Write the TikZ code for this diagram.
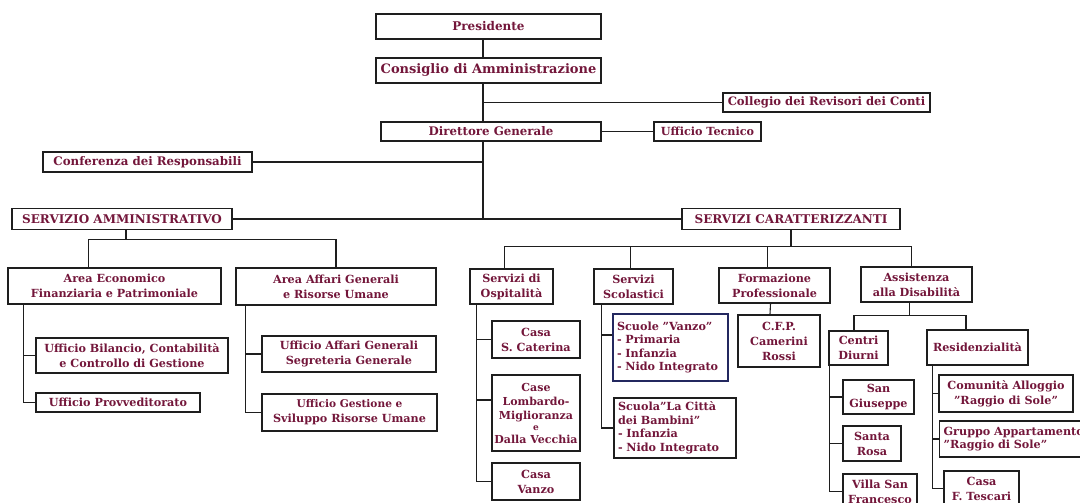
\documentclass[tikz,border=0pt]{standalone}
\usepackage{fontspec}
\setmainfont{DejaVu Serif}
\usetikzlibrary{positioning,calc}
\definecolor{txtred}{RGB}{115,22,58}
\definecolor{boxline}{RGB}{30,30,30}
\definecolor{boxnavy}{RGB}{35,40,95}
\newcommand{\fs}[1]{\fontsize{#1}{15}\selectfont}
\tikzset{
  box/.style  ={rectangle, draw=boxline, line width=1.3pt, fill=white, text=txtred,
                align=center, inner sep=1pt, font=\bfseries\fontsize{11.2}{15}\selectfont},
  boxl/.style ={box, align=left, inner sep=4pt, font=\bfseries\fontsize{11.2}{13.5}\selectfont},
  link/.style ={line width=1.1pt, draw=boxline},
}
\begin{document}
\begin{tikzpicture}[x=1pt,y=-1pt]
\useasboundingbox (0,0) rectangle (1080,503);
\clip (0,0) rectangle (1080,503);
% top of the chart
\coordinate (tk) at (483,0);
\node[box, minimum width=225, minimum height=25] (pres) at (488.5,26.5) {\fs{12}Presidente};
\node[box, minimum width=225, minimum height=25] (cda) at (488.5,70.5) {\fs{13}Consiglio di Amministrazione};
\node[box, minimum width=207, minimum height=19] (rev) at (826.5,102.5) {\fs{11.6}Collegio dei Revisori dei Conti};
\node[box, minimum width=220, minimum height=19] (dg) at (491,131.5) {\fs{11.8}Direttore Generale};
\node[box, minimum width=107, minimum height=19] (utec) at (707.5,131.5) {Ufficio Tecnico};
\node[box, minimum width=209, minimum height=20] (conf) at (147.5,162) {\fs{11.8}Conferenza dei Responsabili};
\node[box, minimum width=220, minimum height=21] (sam) at (122,219) {\fs{12}SERVIZIO AMMINISTRATIVO};
\node[box, minimum width=218, minimum height=21] (scar) at (791,219) {\fs{12}SERVIZI CARATTERIZZANTI};
% servizio amministrativo
\node[box, minimum width=213, minimum height=36] (aef) at (114.5,286) {Area Economico\\Finanziaria e Patrimoniale};
\node[box, minimum width=200, minimum height=37] (aag) at (336,286.5) {Area Affari Generali\\e Risorse Umane};
\node[box, minimum width=192, minimum height=35] (ubil) at (132,355.5) {Ufficio Bilancio, Contabilità\\e Controllo di Gestione};
\node[box, minimum width=164, minimum height=19] (uprov) at (118,402.5) {Ufficio Provveditorato};
\node[box, minimum width=174, minimum height=36] (uaff) at (349,354) {Ufficio Affari Generali\\Segreteria Generale};
\node[box, minimum width=175, minimum height=37] (uges) at (349.5,412.5) {\fs{10.6}Ufficio Gestione e\\Sviluppo Risorse Umane};
% servizi caratterizzanti
\node[box, minimum width=83, minimum height=35] (sosp) at (511.5,286.5) {Servizi di\\Ospitalità};
\node[box, minimum width=79, minimum height=35] (ssco) at (633.5,286.5) {Servizi\\Scolastici};
\node[box, minimum width=111, minimum height=35] (form) at (774.5,285.5) {Formazione\\Professionale};
\node[box, minimum width=111, minimum height=35] (assd) at (916.5,284.5) {Assistenza\\alla Disabilità};
\node[box, minimum width=88, minimum height=37] (cater) at (536,339.5) {Casa\\S. Caterina};
\node[box, minimum width=88, minimum height=76, font=\bfseries\fontsize{11}{14}\selectfont] (lomb) at (536,413) {Case\\Lombardo-\\Miglioranza\\[-3pt]{\fontsize{9}{9}\selectfont e}\\[-1pt]Dalla Vecchia};
\node[box, minimum width=88, minimum height=37] (cvanzo) at (536,481.5) {Casa\\Vanzo};
\node[boxl, draw=boxnavy, text width=107, minimum height=67] (svanzo) at (670.5,347.5) {Scuole "Vanzo"\\- Primaria\\- Infanzia\\- Nido Integrato};
\node[boxl, text width=114, minimum height=60] (scitta) at (675,428) {Scuola"La Città\\dei Bambini"\\- Infanzia\\- Nido Integrato};
\node[box, minimum width=82, minimum height=52] (cfp) at (779,341) {C.F.P.\\Camerini\\Rossi};
\node[box, minimum width=59, minimum height=34] (cdiu) at (858.5,348) {Centri\\Diurni};
\node[box, minimum width=101, minimum height=35] (resid) at (977.5,347.5) {Residenzialità};
\node[box, minimum width=71, minimum height=34] (sgiu) at (878.5,397) {San\\Giuseppe};
\node[box, minimum width=58, minimum height=35] (srosa) at (872,443.5) {Santa\\Rosa};
\node[box, minimum width=74, minimum height=35] (villa) at (880,491.5) {Villa San\\Francesco};
\node[box, minimum width=134, minimum height=37] (calloggio) at (1006,393.5) {Comunità Alloggio\\"Raggio di Sole"};
\node[boxl, anchor=west, text width=143, minimum height=36] (gruppo) at (939,439) {Gruppo Appartamento\\"Raggio di Sole"};
\node[box, minimum width=75, minimum height=35] (tescari) at (981.5,488.5) {Casa\\F. Tescari};
% trunk
\draw[link] (pres.south -| tk) -- (cda.north -| tk);
\draw[link] (cda.south -| tk) -- (dg.north -| tk);
\draw[link] (rev.west) -- (rev.west -| tk);
\draw[link] (dg.east) -- (utec.west);
\draw[link] (conf.east) -- (conf.east -| tk);
\draw[link] (dg.south -| tk) -- (sam.east -| tk);
\draw[link] (sam.east) -- (scar.west);
% branches
\draw[link] ([xshift=4]sam.south) -- ++(0,9) coordinate (sab);
\foreach \n/\dx in {aef/-26,aag/0} \draw[link] ([xshift=\dx]\n.north) |- (sab);
\draw[link] (scar.south) -- ++(0,16) coordinate (scb);
\foreach \n/\dx in {sosp/-7,ssco/-3,form/-7,assd/-5} \draw[link] ([xshift=\dx]\n.north) |- (scb);
\draw[link] ([xshift=-7]assd.south) -- ++(0,13) coordinate (adb);
\foreach \n/\dx in {cdiu/-4.5,resid/-11.5} \draw[link] ([xshift=\dx]\n.north) |- (adb);
\draw[link] ([xshift=-4]form.south) -- ([xshift=-9]cfp.north);
% side spines
\draw[link] ([xshift=16]aef.south west) |- (uprov.west);
\draw[link] (ubil.west) -- ++(-12,0);
\draw[link] ([xshift=10]aag.south west) |- (uges.west);
\draw[link] (uaff.west) -- ++(-16,0);
\draw[link] ([xshift=7]sosp.south west) |- (cvanzo.west);
\draw[link] (cater.west) -- ++(-15,0);
\draw[link] ([yshift=13]lomb.west) -- ++(-15,0);
\draw[link] ([xshift=8]ssco.south west) |- (scitta.west);
\draw[link] ([yshift=12.5]svanzo.west) -- ++(-11,0);
\draw[link] ([xshift=1]cdiu.south west) |- (villa.west);
\draw[link] (sgiu.west) -- ++(-13,0);
\draw[link] (srosa.west) -- ++(-13,0);
\draw[link] ([xshift=6]resid.south west) |- (tescari.west);
\draw[link] (calloggio.west) -- ++(-6,0);
\draw[link] (gruppo.west) -- ++(-6,0);
\end{tikzpicture}
\end{document}
